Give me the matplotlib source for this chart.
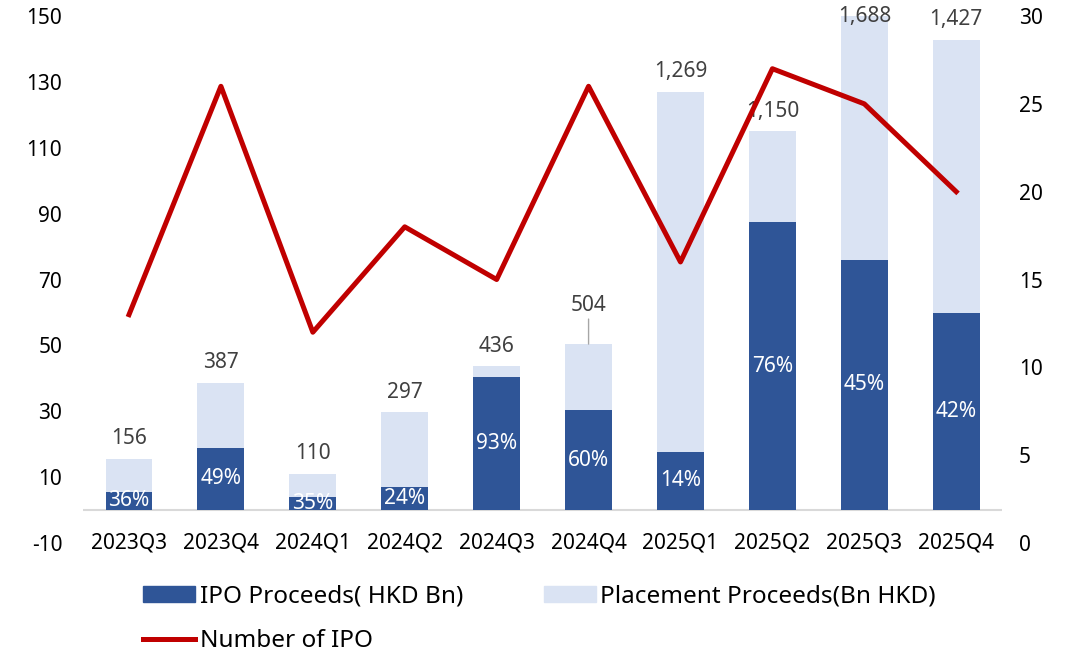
import matplotlib
matplotlib.use("Agg")
import matplotlib.pyplot as plt
from matplotlib.patches import Rectangle, Patch
from matplotlib.lines import Line2D
import numpy as np

plt.rcParams['font.family'] = ['Noto Sans', 'DejaVu Sans']
plt.rcParams['axes.unicode_minus'] = False

# data
quarters = ["2023Q3", "2023Q4", "2024Q1", "2024Q2", "2024Q3",
            "2024Q4", "2025Q1", "2025Q2", "2025Q3", "2025Q4"]
total_proceeds = [156, 387, 110, 297, 436, 504, 1269, 1150, 1688, 1427]   # label units
ipo_share = [36, 49, 35, 24, 93, 60, 14, 76, 45, 42]                       # % of total
ipo_count = [13, 26, 12, 18, 15, 26, 16, 27, 25, 20]

DARK = "#2F5597"
LIGHT = "#DAE3F3"
RED = "#C00000"

x = np.arange(len(quarters))
totals = np.array(total_proceeds) / 10.0
ipo = totals * np.array(ipo_share) / 100.0
placement = totals - ipo

fig = plt.figure(figsize=(10.73, 6.54), dpi=100)
ax = fig.add_axes([0.0774, 0.1697, 0.8566, 0.8058])
ax2 = ax.twinx()

ax.set_xlim(-0.5, 9.5)
ax.set_ylim(-10, 150)
ax2.set_ylim(0, 30)

bars_ipo = ax.bar(x, ipo, width=0.51, color=DARK, zorder=2)
bars_pl = ax.bar(x, placement, bottom=ipo, width=0.51, color=LIGHT, zorder=2)
ax.axhline(0, color="#D9D9D9", lw=1.5, zorder=1)

# percent labels, clipped at the zero line
clip = Rectangle((-0.5, 0), 10, 200, transform=ax.transData)
for i in range(len(x)):
    t = ax.text(x[i], ipo[i] / 2, f"{ipo_share[i]}%", ha="center", va="center",
                color="white", fontsize=15, zorder=3)
    t.set_clip_path(clip)

# totals above bars
top = ax.get_ylim()[1]
for i in range(len(x)):
    lbl = f"{total_proceeds[i]:,}"
    if totals[i] > top:
        ax.text(x[i], top, lbl, ha="center", va="center", color="#404040",
                fontsize=15, clip_on=False)
    elif quarters[i] == "2024Q4":
        ax.annotate(lbl, xy=(x[i], totals[i]), xytext=(0, 20), textcoords="offset points",
                    ha="center", va="bottom", color="#404040", fontsize=15,
                    arrowprops=dict(arrowstyle="-", color="#A6A6A6", lw=1,
                                    shrinkA=0, shrinkB=0))
    else:
        ax.annotate(lbl, xy=(x[i], totals[i]), xytext=(0, 7), textcoords="offset points",
                    ha="center", va="bottom", color="#404040", fontsize=15)

ax2.plot(x, ipo_count, color=RED, lw=3.6, solid_joinstyle="round", zorder=4)
ax2.set_zorder(ax.get_zorder() + 1)
ax2.patch.set_visible(False)
ax.patch.set_visible(False)

ax.set_yticks(np.arange(-10, 151, 20))
ax2.set_yticks(np.arange(0, 31, 5))
ax.tick_params(axis="y", length=0, pad=15, labelsize=15)
ax2.tick_params(axis="y", length=0, pad=12, labelsize=15)

ax.set_xticks([])
for i in range(len(x)):
    ax.text(x[i], 0, quarters[i], transform=ax.get_xaxis_transform(),
            ha="center", va="center", fontsize=15)

for a in (ax, ax2):
    for s in a.spines.values():
        s.set_visible(False)

handles = [Patch(color=DARK), Line2D([], [], color=RED, lw=3.6), Patch(color=LIGHT)]
labels = ["IPO Proceeds( HKD Bn)", "Number of IPO", "Placement Proceeds(Bn HKD)"]
fig.legend(handles, labels, ncol=2, loc="upper left", bbox_to_anchor=(0.1335, 0.106),
           frameon=False, fontsize=17.5, handlelength=2.14, handleheight=0.6,
           handletextpad=0.2, columnspacing=3.3, labelspacing=0.83,
           borderpad=0, borderaxespad=0)

fig.savefig("out.png", dpi=100)
